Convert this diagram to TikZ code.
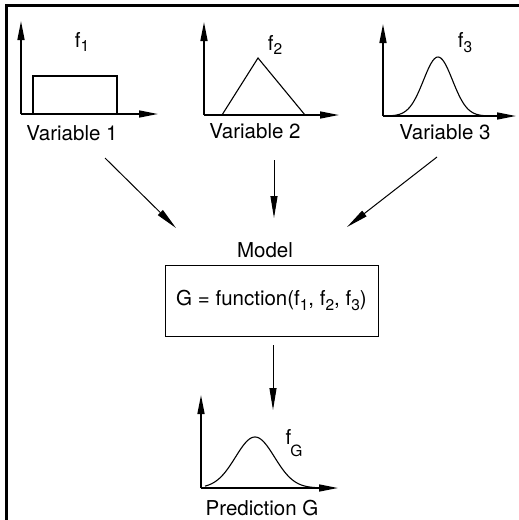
\documentclass[tikz,border=0pt]{standalone}
\usepackage{fontspec}
\setmainfont{TeX Gyre Heros}
\usetikzlibrary{arrows.meta}
% lowered small index for the density labels
\newcommand{\idx}[1]{\raisebox{-0.45ex}{\fontsize{15.5}{15.5}\selectfont #1}}
\begin{document}
\begin{tikzpicture}[x=1pt,y=-1pt,
  lbl/.style={font=\fontsize{20.5}{22}\selectfont, inner sep=0pt},
  axis/.style={line width=1.4pt, -{Triangle[length=19pt,width=7pt]}},
  curve/.style={line width=1.1pt},
  flow/.style={line width=1pt, -{Triangle[length=22pt,width=7pt]}},
  frame/.style={line width=3pt}]
\useasboundingbox (0,0) rectangle (519,520);
\draw[frame] (519,5) -- (6,5) -- (6,520);

% Variable 1: uniform density
\coordinate (o1) at (21,114);
\draw[axis] (o1) -- (21,21);
\draw[axis] (o1) -- (158,114);
\draw[curve] (33,114) -- (33,76) -- (117,76) -- (117,114);
\node[lbl] (f1) at (82,42) {f\idx{1}};
\node[lbl] (v1) at (72,133) {Variable 1};

% Variable 2: triangular density
\coordinate (o2) at (204,115);
\draw[axis] (o2) -- (204,22);
\draw[axis] (o2) -- (339,115);
\draw[curve] (222,115) -- (258,58) -- (305,115);
\node[lbl] (f2) at (275,45) {f\idx{2}};
\node[lbl] (v2) at (255,131) {Variable 2};

% Variable 3: normal density
\coordinate (o3) at (383,116);
\draw[axis] (o3) -- (383,24);
\draw[axis] (o3) -- (516,116);
\draw[curve] plot[domain=383:492, samples=80, smooth] (\x, {116-59*exp(-((\x-438)^2)/(2*14.5^2))});
\node[lbl] (f3) at (465,43) {f\idx{3}};
\node[lbl] (v3) at (445,132) {Variable 3};

% model
\node[lbl] (mdl) at (265,250) {Model};
\node[draw, line width=1pt, minimum width=213pt, minimum height=71pt,
      font=\fontsize{20.5}{22}\selectfont] (box) at (271.5,300.5)
      {G = function(f\idx{1}, f\idx{2}, f\idx{3})};

% inflow arrows
\coordinate (a1s) at (105,158);
\coordinate (a1e) at (176,228);
\coordinate (a2s) at (274,160);
\coordinate (a2e) at (274,218);
\coordinate (a3s) at (437,157);
\coordinate (a3e) at (347,227);
\draw[flow] (a1s) -- (a1e);
\draw[flow] (a2s) -- (a2e);
\draw[flow] (a3s) -- (a3e);

% prediction
\coordinate (ob) at (201,488);
\coordinate (a4s) at (273,345);
\coordinate (a4e) at (273,410);
\draw[flow] (a4s) -- (a4e);
\draw[axis] (ob) -- (201,395);
\draw[axis] (ob) -- (338,488);
\draw[curve] plot[domain=205:315, samples=80, smooth] (\x, {488-51*exp(-((\x-255)^2)/(2*19.5^2))});
\node[lbl] (fg) at (294,443) {\raisebox{0.7ex}{f}\hspace{-1pt}\idx{G}};
\node[lbl] (pg) at (262,508) {Prediction G};
\end{tikzpicture}
\end{document}
